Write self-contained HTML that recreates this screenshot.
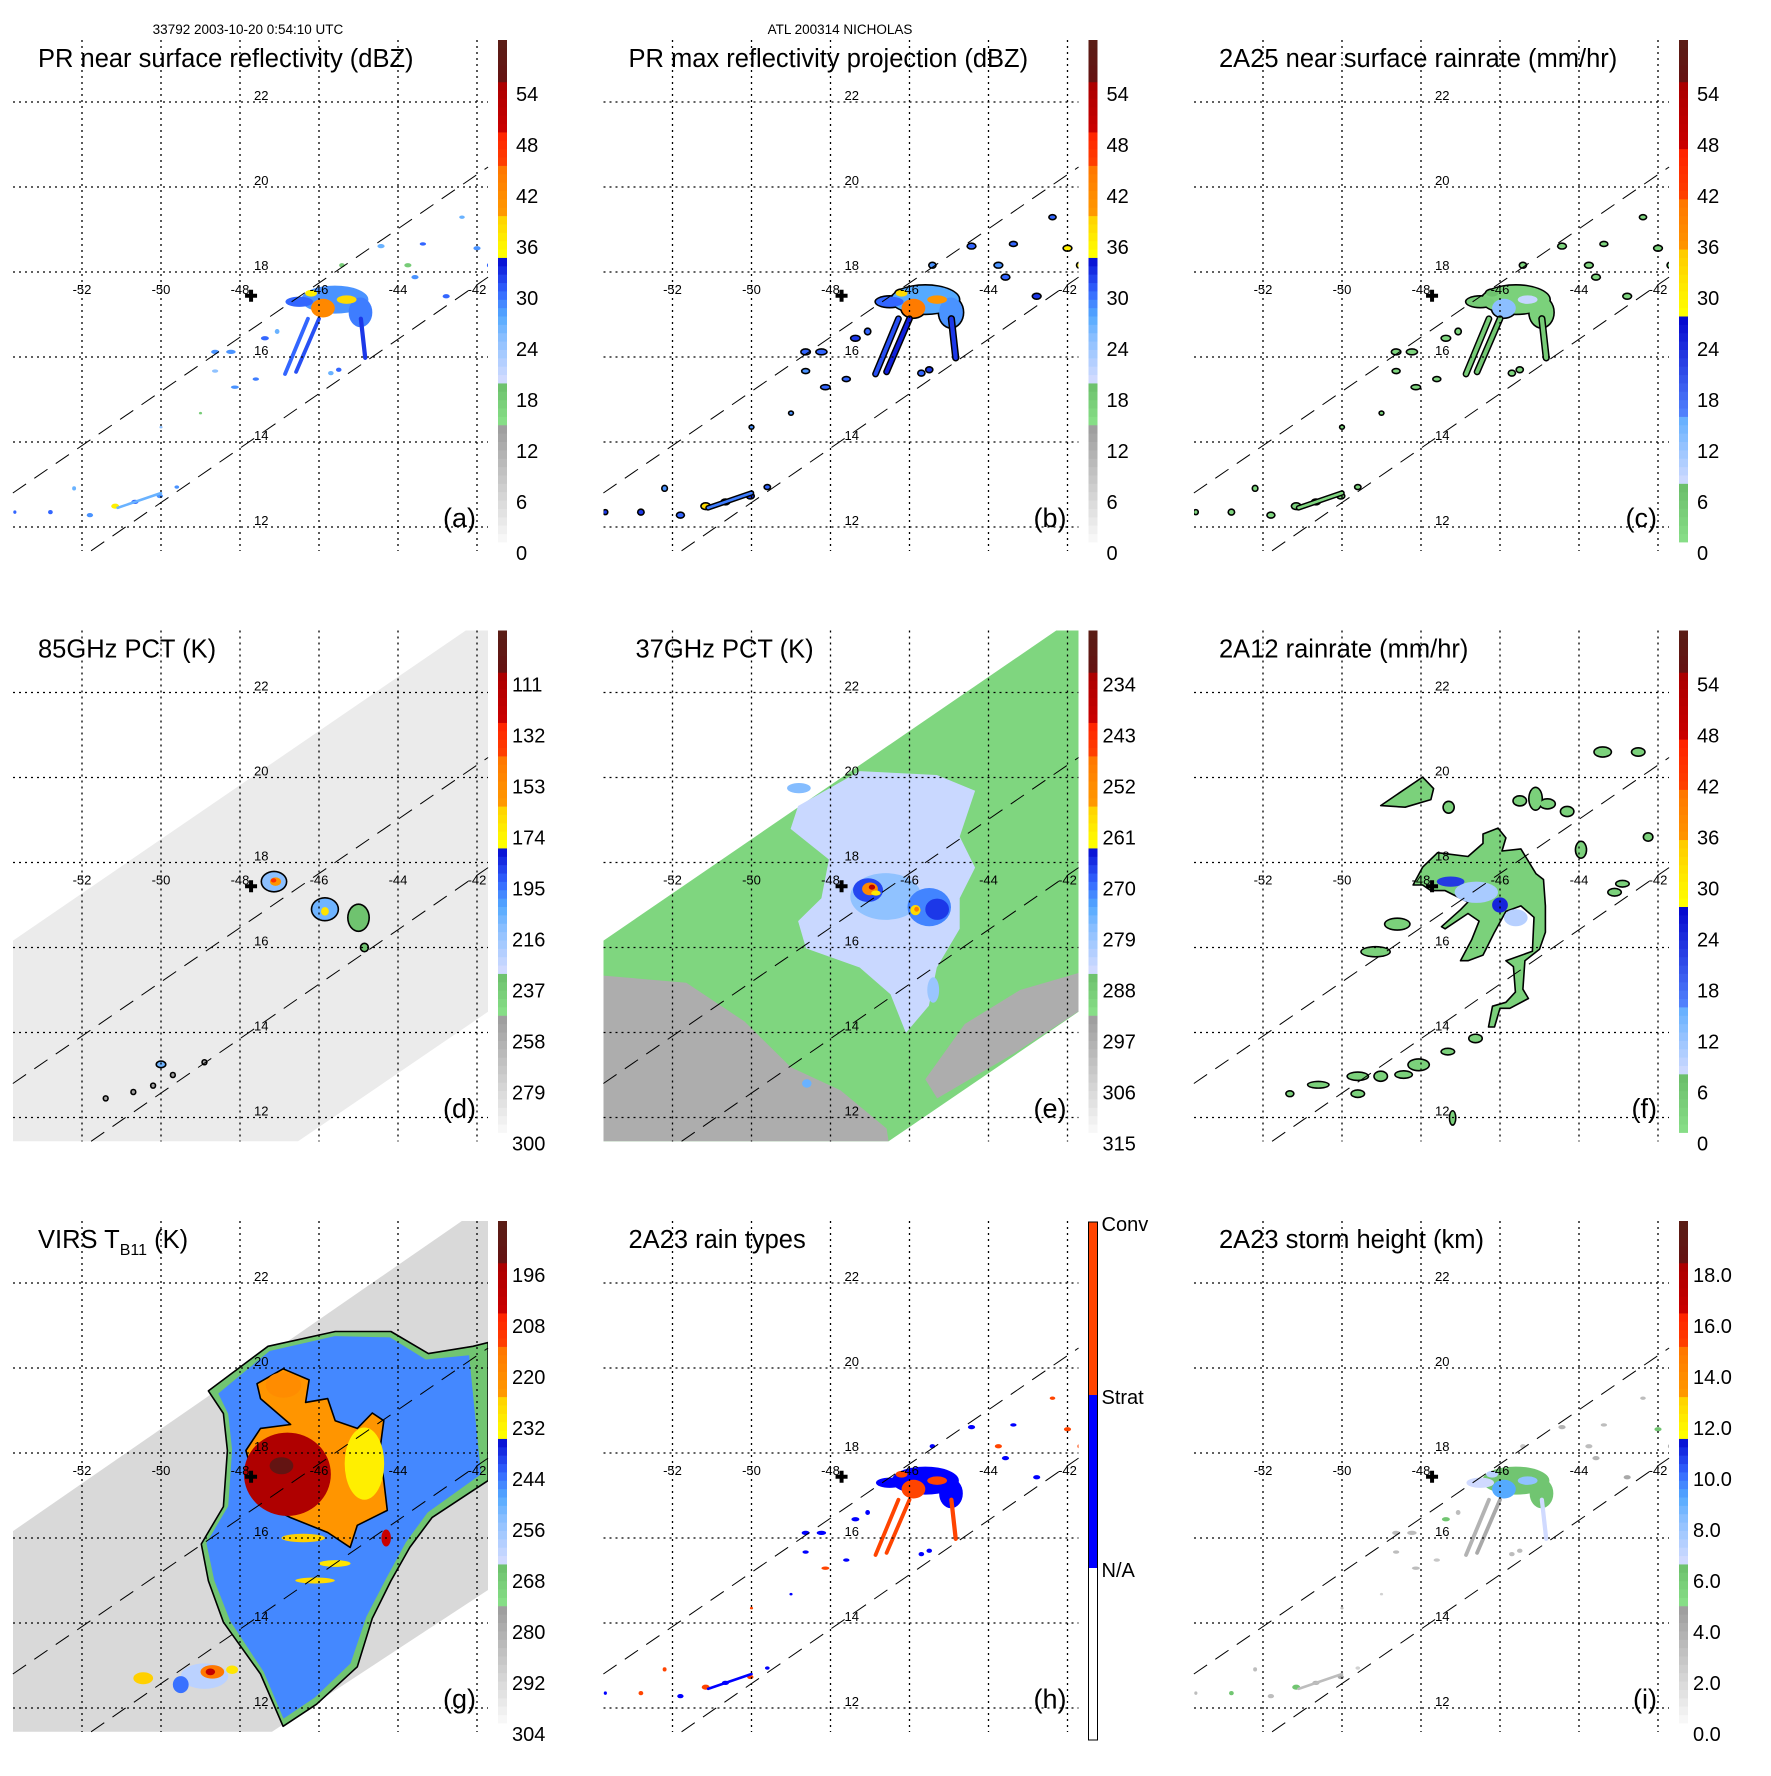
<!DOCTYPE html>
<html><head><meta charset="utf-8"><style>
html,body{margin:0;padding:0;background:#fff;}
svg text{font-family:"Liberation Sans",sans-serif;}
</style></head><body>
<svg id="fig" xmlns="http://www.w3.org/2000/svg" width="1771" height="1771" viewBox="0 0 1771 1771">
<rect x="0" y="0" width="1771" height="1771" fill="#fff"/>
<text x="248" y="34" font-size="13.5" text-anchor="middle">33792 2003-10-20 0:54:10 UTC</text>
<text x="840" y="34" font-size="13.5" text-anchor="middle">ATL 200314 NICHOLAS</text>
</svg>
<script>
// ---------- data ----------
const lonTicks=[-52,-50,-48,-46,-44,-42];
const latTicks=[22,20,18,16,14,12];
const stormCenter=[-47.72,17.44];
const prSwathUpper=[[-53.75,12.8],[-41.72,20.47]];
const prSwathLower=[[-51.77,11.44],[-41.72,17.88]];
const tmiSwath=[[-53.75,16.16],[-42.28,23.46],[-41.72,23.46],[-41.72,14.49],[-46.53,11.44],[-53.75,11.44]];
const virsSwath=[[-53.75,16.16],[-42.38,23.46],[-41.72,23.46],[-41.72,14.78],[-47.19,11.44],[-53.75,11.44]];

// PR cells: lon, lat, rx(deg), ry(deg)
const prCells=[[-45.6,17.35,0.85,0.33],[-46.5,17.3,0.35,0.12],[-44.95,17.05,0.3,0.35],[-45.9,17.15,0.3,0.22],[-45.3,17.35,0.25,0.1],[-46.2,17.5,0.15,0.08],
[-44.43,18.61,0.09,0.05],[-43.75,18.16,0.09,0.05],[-43.57,17.88,0.09,0.05],[-42.78,17.43,0.09,0.05],[-42.0,18.56,0.09,0.05],[-42.38,19.29,0.07,0.04],[-43.37,18.66,0.08,0.04],[-45.42,18.16,0.07,0.05],[-48.23,16.12,0.12,0.05],[-48.63,16.12,0.1,0.05],[-47.37,16.44,0.1,0.05],[-47.06,16.6,0.06,0.06],[-48.63,15.67,0.08,0.04],[-48.13,15.29,0.1,0.04],[-47.6,15.48,0.08,0.04],[-45.7,15.62,0.07,0.05],[-45.5,15.7,0.07,0.05],[-50.03,12.73,0.08,0.05],[-50.66,12.59,0.09,0.05],[-51.16,12.49,0.1,0.06],[-51.8,12.28,0.08,0.05],[-52.8,12.35,0.06,0.05],[-53.7,12.35,0.04,0.04],[-49.6,12.94,0.06,0.04],[-52.2,12.91,0.05,0.05],[-49.0,14.68,0.04,0.03],[-50.0,14.35,0.04,0.03],[-41.7,18.16,0.05,0.05]];
const prStreaks=[[-46.28,16.9,-46.86,15.6,0.045],[-46.0,16.9,-46.58,15.65,0.045],[-44.94,16.9,-44.83,15.98,0.05],[-51.1,12.45,-50.0,12.8,0.03]];
const valsA=[28,30,29,42,38,36,26,17,28,30,28,26,30,17,28,28,30,26,24,28,29,26,30,28,30,36,28,30,30,28,26,17,24,30];
const valsB=[27,30,28,44,40,38,30,28,30,32,36,30,30,28,30,30,32,30,28,30,30,30,32,32,32,38,30,32,32,30,28,28,28,36];
const valsC=[3,4,3,12,8,6,2,2,2,2,3,2,2,2,2,2,2,2,2,2,2,2,2,2,2,3,2,2,2,2,2,2,2,2];
const valsH=[1,1,1,2,2,2,1,2,1,1,2,2,1,1,1,1,1,1,1,2,1,1,1,2,1,2,1,2,1,1,2,1,2,2];
const valsI=[6,6.5,6,9,8,7,3.5,3,3.5,4,6,3,3,2.5,3,3,6,3,3,3,2.5,3,3,4,3.5,6,3,6,3,2,3,2,3,3.5];
const streakA=[30,31,32,26], streakB=[31,33,32,29], streakC=[4,5,4,2], streakH=[2,2,2,1], streakI=[3.5,4,6.5,3];

// 85 GHz PCT cells (K): lon,lat,rx,ry,T
const dCells=[[-47.14,17.55,0.3,0.22,215],[-47.1,17.55,0.14,0.1,160],[-47.15,17.58,0.07,0.05,135],[-45.0,16.7,0.25,0.3,236],[-45.85,16.9,0.32,0.25,210],[-45.85,16.85,0.1,0.1,170],[-44.85,16.0,0.08,0.08,236],[-50.0,13.25,0.1,0.06,210],[-51.4,12.45,0.04,0.04,255],[-50.7,12.6,0.04,0.04,255],[-50.2,12.75,0.04,0.04,255],[-49.7,13.0,0.04,0.04,255],[-48.9,13.3,0.04,0.04,255]];
// 37 GHz PCT
const eGray1=[[-53.75,15.34],[-51.65,15.17],[-50.18,14.26],[-49.0,13.18],[-47.75,12.64],[-46.58,11.74],[-46.53,11.44],[-53.75,11.44]];
const eGray2=[[-44.6,14.2],[-43.2,15.0],[-41.72,15.4],[-41.72,14.5],[-43.37,13.5],[-45.3,12.45],[-45.6,12.9]];
const eCloud=[[-48.82,19.33],[-47.26,20.15],[-45.31,20.06],[-44.34,19.69],[-44.73,18.61],[-44.34,17.88],[-44.73,17.16],[-44.73,16.44],[-45.31,15.53],[-45.51,14.63],[-46.09,13.99],[-46.48,14.9],[-47.26,15.53],[-48.62,15.98],[-48.82,16.62],[-48.23,17.16],[-48.04,18.07],[-49.01,18.79]];
const eGrayT=298, eCloudT=285;
const eCells=[[-46.6,17.2,0.9,0.55,279],[-45.5,16.95,0.55,0.45,272],[-45.3,16.9,0.3,0.25,267],[-47.05,17.35,0.38,0.28,268],[-47.0,17.38,0.2,0.15,252],[-46.95,17.42,0.08,0.06,238],[-46.85,17.28,0.12,0.06,260],[-45.85,16.88,0.13,0.12,258],[-45.82,16.9,0.06,0.06,250],[-48.8,19.75,0.3,0.12,278],[-45.4,15.0,0.15,0.3,280],[-48.6,12.8,0.12,0.1,276]];
// 2A12 rain
const fMain=[[-48.2,17.47],[-47.96,17.89],[-47.58,18.23],[-46.81,18.14],[-46.43,18.45],[-46.43,18.67],[-46.05,18.81],[-45.85,18.58],[-45.95,18.27],[-45.47,18.32],[-45.09,17.74],[-44.9,17.6],[-44.85,16.98],[-44.85,16.36],[-45.0,15.96],[-45.37,15.69],[-45.42,15.02],[-45.28,14.8],[-45.75,14.57],[-46.0,14.57],[-46.14,14.13],[-46.29,14.13],[-46.19,14.62],[-45.85,14.71],[-45.61,14.95],[-45.66,15.55],[-45.85,15.69],[-45.18,15.91],[-45.14,16.71],[-45.47,16.98],[-45.85,16.85],[-46.14,16.36],[-46.43,15.82],[-46.81,15.69],[-47.0,15.69],[-46.72,16.18],[-46.53,16.62],[-46.81,16.8],[-47.39,16.44],[-47.48,16.49],[-47.0,16.89],[-46.81,17.07],[-47.2,17.25],[-47.39,17.34],[-47.75,17.34],[-47.96,17.47]];
const fNW=[[-49.02,19.34],[-47.96,20.01],[-47.68,19.74],[-47.75,19.48],[-48.4,19.3]];
const fMainVal=3, fNWVal=3;
const fCells=[[-47.25,17.55,0.35,0.12,22],[-46.0,17.0,0.2,0.18,24],[-46.6,17.3,0.55,0.25,10],[-45.6,16.7,0.3,0.2,9],[-44.8,19.38,0.18,0.1,3],[-45.5,19.45,0.15,0.1,3],[-45.1,19.5,0.15,0.25,3],[-44.3,19.2,0.15,0.1,3],[-42.5,20.6,0.15,0.08,3],[-43.4,20.6,0.2,0.1,3],[-43.95,18.3,0.12,0.18,3],[-42.25,18.6,0.1,0.08,3],[-43.1,17.3,0.15,0.07,3],[-47.3,19.3,0.12,0.12,3],[-48.6,16.55,0.3,0.12,3],[-49.15,15.9,0.35,0.1,3],[-46.62,13.86,0.15,0.08,3],[-47.32,13.55,0.15,0.06,3],[-48.06,13.24,0.25,0.12,3],[-48.44,13.01,0.2,0.07,3],[-49.02,12.97,0.15,0.1,3],[-49.6,12.97,0.25,0.08,3],[-49.6,12.56,0.15,0.07,3],[-50.6,12.77,0.25,0.06,3],[-51.32,12.56,0.08,0.05,3],[-47.2,11.99,0.06,0.15,3],[-42.9,17.5,0.15,0.06,3]];
// VIRS Tb11
const gShield=[[-48.8,19.46],[-47.29,20.51],[-45.59,20.86],[-44.18,20.86],[-43.23,20.34],[-42.1,20.51],[-41.72,20.6],[-41.72,17.35],[-43.14,16.48],[-43.7,15.78],[-44.18,14.99],[-44.65,14.11],[-45.03,12.97],[-46.06,12.09],[-46.91,11.57],[-47.48,12.8],[-48.42,14.02],[-48.8,14.99],[-48.98,15.86],[-48.42,16.74],[-48.32,18.06],[-48.42,18.93]];
const gBlue=[[-48.55,19.4],[-47.25,20.4],[-45.6,20.75],[-44.2,20.72],[-43.3,20.2],[-42.2,20.3],[-41.9,17.5],[-43.25,16.6],[-43.8,15.9],[-44.3,15.05],[-44.8,14.15],[-45.2,13.05],[-46.1,12.25],[-46.9,11.75],[-47.4,12.85],[-48.25,14.05],[-48.65,15.0],[-48.85,15.88],[-48.3,16.75],[-48.2,18.08],[-48.3,18.92]];
const gWarm=[[-47.57,19.63],[-46.91,19.98],[-46.25,19.72],[-46.34,19.19],[-45.78,19.28],[-45.59,18.76],[-45.03,18.58],[-44.65,18.94],[-44.36,18.76],[-44.46,18.06],[-44.36,17.35],[-44.27,16.65],[-45.03,16.3],[-45.21,15.78],[-45.78,16.13],[-46.72,16.48],[-47.48,16.83],[-47.85,18.06],[-47.48,18.58],[-46.72,18.67],[-47.48,19.28]];
const gShieldT=268, gBlueT=247, gWarmT=224;
const gCells=[[-44.85,17.75,0.5,0.85,232],[-46.9,19.6,0.45,0.3,221],[-46.8,17.5,1.1,0.98,196],[-46.95,17.7,0.3,0.2,192],[-44.3,16.0,0.12,0.2,205],[-46.4,16.0,0.55,0.1,226],[-45.6,15.4,0.4,0.08,230],[-46.1,15.0,0.5,0.07,228],[-48.9,12.75,0.6,0.3,262],[-50.45,12.7,0.25,0.14,226],[-49.5,12.55,0.2,0.2,245],[-48.7,12.85,0.3,0.16,215],[-48.75,12.85,0.12,0.08,203],[-48.2,12.9,0.15,0.1,230]];

const cbLabels={
 a:['54','48','42','36','30','24','18','12','6','0'],
 d:['111','132','153','174','195','216','237','258','279','300'],
 e:['234','243','252','261','270','279','288','297','306','315'],
 g:['196','208','220','232','244','256','268','280','292','304'],
 i:['18.0','16.0','14.0','12.0','10.0','8.0','6.0','4.0','2.0','0.0']};
const cbLabelVals=[54,48,42,36,30,24,18,12,6,0];

// ---------- colormaps ----------
const palA=[[0,'#fafafa'],[14.2,'#9a9a9a'],[14.21,'#88e088'],[19.2,'#6abd6a'],[19.21,'#d4dcff'],[24.3,'#8cc0ff'],[27,'#55aaff'],[30,'#3366ff'],[34.4,'#0000cc'],[34.41,'#ffff00'],[39.4,'#ffcc00'],[39.41,'#ff9900'],[44.7,'#ff7700'],[44.71,'#ff4400'],[49,'#ff2200'],[49.01,'#cc0000'],[54.8,'#aa0000'],[54.81,'#661111'],[60,'#5a1e16']];
const palC=[[0,'#88e088'],[6.96,'#6abd6a'],[6.97,'#d4dcff'],[14.7,'#66b0ff'],[14.71,'#5588ff'],[27.4,'#0000cc'],[27.41,'#ffff00'],[34.5,'#ffcc00'],[34.51,'#ff9900'],[40.7,'#ff7700'],[40.71,'#ff4400'],[47,'#ff2200'],[47.01,'#cc0000'],[54.7,'#aa0000'],[54.71,'#661111'],[60,'#5a1e16']];
function hx(c){return [parseInt(c.substr(1,2),16),parseInt(c.substr(3,2),16),parseInt(c.substr(5,2),16)];}
function cmap(pal,v){
 v=Math.max(0,Math.min(60,v));
 for(let i=0;i<pal.length-1;i++){
  if(v>=pal[i][0]&&v<=pal[i+1][0]){
   const t=(v-pal[i][0])/((pal[i+1][0]-pal[i][0])||1);
   const a=hx(pal[i][1]),b=hx(pal[i+1][1]);
   return 'rgb('+a.map((x,k)=>Math.round(x+(b[k]-x)*t)).join(',')+')';
  }}
 return pal[pal.length-1][1];
}
const toV={
 a:v=>v, b:v=>v, c:v=>v, f:v=>v,
 d:T=>(300-T)*54/189, e:T=>(315-T)*2/3, g:T=>(304-T)/2, i:h=>h*3};
const typeCol=v=>v>=2?'#ff4400':(v>=1?'#0000ff':'#ffffff');

// ---------- geometry ----------
const NS='http://www.w3.org/2000/svg';
const svg=document.getElementById('fig');
const STEP=590.5;
const px=lon=>82+(lon+52)*39.5;
const py=lat=>102+(22-lat)*42.5;
function mk(tag,attrs,parent){const e=document.createElementNS(NS,tag);for(const k in attrs)e.setAttribute(k,attrs[k]);parent.appendChild(e);return e;}
function polyPts(arr){return arr.map(p=>px(p[0]).toFixed(1)+','+py(p[1]).toFixed(1)).join(' ');}

const panels=[
 {id:'a',col:0,row:0,title:'PR near surface reflectivity (dBZ)',pal:palA},
 {id:'b',col:1,row:0,title:'PR max reflectivity projection (dBZ)',pal:palA},
 {id:'c',col:2,row:0,title:'2A25 near surface rainrate (mm/hr)',pal:palC},
 {id:'d',col:0,row:1,title:'85GHz PCT (K)',pal:palA},
 {id:'e',col:1,row:1,title:'37GHz PCT (K)',pal:palA},
 {id:'f',col:2,row:1,title:'2A12 rainrate (mm/hr)',pal:palC},
 {id:'g',col:0,row:2,title:'VIRS',pal:palA},
 {id:'h',col:1,row:2,title:'2A23 rain types',pal:null},
 {id:'i',col:2,row:2,title:'2A23 storm height (km)',pal:palA}];

function drawCells(g,cells,vals,colorFn,outline){
 if(outline){
  cells.forEach((c,k)=>{
   const e=mk('ellipse',{cx:px(c[0]),cy:py(c[1]),rx:c[2]*39.5+1.6,ry:c[3]*42.5+1.6,fill:'#000'},g);
   
   
  });
 }
 cells.forEach((c,k)=>{
  const v=vals?vals[k]:c[4];
  const e=mk('ellipse',{cx:px(c[0]),cy:py(c[1]),rx:c[2]*39.5,ry:c[3]*42.5,fill:colorFn(v)},g);
  
  
 });
}
function drawStreaks(g,streaks,vals,colorFn,outline){
 if(outline){
  streaks.forEach(s=>{
   const l=mk('line',{x1:px(s[0]),y1:py(s[1]),x2:px(s[2]),y2:py(s[3]),stroke:'#000','stroke-width':s[4]*42.5*2+3,'stroke-linecap':'round'},g);
   
   
  });
 }
 streaks.forEach((s,k)=>{
  const l=mk('line',{x1:px(s[0]),y1:py(s[1]),x2:px(s[2]),y2:py(s[3]),stroke:colorFn(vals[k]),'stroke-width':s[4]*42.5*2,'stroke-linecap':'round'},g);
  
  
 });
}
function drawPoly(g,pts,fill,name,stroke){
 const p=mk('polygon',{points:polyPts(pts),fill:fill,stroke:stroke||'none','stroke-width':stroke?1.6:0,'stroke-linejoin':'round'},g);
 
 
 return p;
}

panels.forEach(P=>{
 const G=mk('g',{transform:'translate('+(P.col*STEP)+','+(P.row*STEP)+')'},svg);
 
 
 const cp=mk('clipPath',{id:'clip-'+P.id},G);
 mk('rect',{x:13,y:40,width:475,height:511},cp);
 const D=mk('g',{'clip-path':'url(#clip-'+P.id+')'},G);
 
 
 const V=toV[P.id];
 const cf=v=>cmap(P.pal,V(v));
 if(P.id==='a') { drawCells(D,prCells,valsA,cf,false); drawStreaks(D,prStreaks,streakA,cf,false); }
 if(P.id==='b') { drawCells(D,prCells,valsB,cf,true); drawStreaks(D,prStreaks,streakB,cf,true); }
 if(P.id==='c') { drawCells(D,prCells,valsC,cf,true); drawStreaks(D,prStreaks,streakC,cf,true); }
 if(P.id==='h') { drawCells(D,prCells,valsH,typeCol,false); drawStreaks(D,prStreaks,streakH,typeCol,false); }
 if(P.id==='i') { drawCells(D,prCells,valsI,cf,false); drawStreaks(D,prStreaks,streakI,cf,false); }
 if(P.id==='d'){
  drawPoly(D,tmiSwath,'#ebebeb','tmi-swath');
  drawCells(D,dCells,null,cf,true);
 }
 if(P.id==='e'){
  drawPoly(D,tmiSwath,'#7fd67f','tmi-swath');
  drawPoly(D,eGray1,cf(eGrayT),'gray-region');
  drawPoly(D,eGray2,cf(eGrayT),'gray-region-east');
  drawPoly(D,eCloud,cf(eCloudT),'scattering-region');
  drawCells(D,eCells,null,cf,false);
 }
 if(P.id==='f'){
  drawPoly(D,fMain,cf(fMainVal),'rain-area-main','#000');
  drawPoly(D,fNW,cf(fNWVal),'rain-area-nw','#000');
  drawCells(D,fCells.slice(4),null,cf,true);
  drawCells(D,fCells.slice(0,4),null,cf,false);
 }
 if(P.id==='g'){
  drawPoly(D,virsSwath,'#d9d9d9','virs-swath');
  drawPoly(D,gShield,cf(gShieldT),'cloud-shield','#000');
  drawPoly(D,gBlue,cf(gBlueT),'cold-cloud');
  drawPoly(D,gWarm,cf(gWarmT),'very-cold-cloud','#000');
  drawCells(D,gCells,null,cf,false);
 }
 // grid
 lonTicks.forEach(l=>{
  const ln=mk('line',{x1:px(l),y1:40,x2:px(l),y2:551,stroke:'#000','stroke-width':1.3,'stroke-dasharray':'2,4'},G);
  
  
  const t=mk('text',{x:px(l),y:294,'font-size':13,'text-anchor':'middle'},G); t.textContent=String(l);
  
  
 });
 latTicks.forEach(l=>{
  const ln=mk('line',{x1:13,y1:py(l),x2:488,y2:py(l),stroke:'#000','stroke-width':1.3,'stroke-dasharray':'2,4'},G);
  
  
  const t=mk('text',{x:254,y:py(l)-2,'font-size':13},G); t.textContent=String(l);
  
  
 });
 [prSwathUpper,prSwathLower].forEach(s=>{
  const ln=mk('line',{x1:px(s[0][0]),y1:py(s[0][1]),x2:px(s[1][0]),y2:py(s[1][1]),stroke:'#000','stroke-width':1,'stroke-dasharray':'16,10'},G);
  
  
 });
 const cx=px(stormCenter[0]),cy=py(stormCenter[1]);
 const cr=mk('path',{d:`M${cx-6},${cy}H${cx+6}M${cx},${cy-6}V${cy+6}`,stroke:'#000','stroke-width':4},G);
 
 
 // title
 const tt=mk('text',{x:P.id==='e'?45:38,y:67,'font-size':25.5},G);
 if(P.id==='g'){
  tt.innerHTML='VIRS T<tspan font-size="16" dy="7">B11</tspan><tspan dy="-7"> (K)</tspan>';
 } else tt.textContent=P.title;
 
 
 const pl=mk('text',{x:476,y:527,'font-size':27,'text-anchor':'end'},G); pl.textContent='('+P.id+')';
 
 
 // colorbar
 const CB=mk('g',{},G);
 
 
 if(P.id==='h'){
  [[41,214,'#ff4400'],[214,387,'#0000ff'],[387,559,'#ffffff']].forEach(s=>{
   const r=mk('rect',{x:498,y:s[0],width:9,height:s[1]-s[0],fill:s[2]},CB);
   
   
  });
  mk('rect',{x:498,y:41,width:9,height:518,fill:'none',stroke:'#000','stroke-width':1},CB);
  [['Conv',50],['Strat',223],['N/A',396]].forEach(s=>{
   const t=mk('text',{x:511,y:s[1],'font-size':20},CB); t.textContent=s[0];
   
   
  });
 } else {
  for(let k=0;k<60;k++){
   const y0=542-(k+1)*502/60;
   const r=mk('rect',{x:498,y:y0.toFixed(2),width:9,height:(502/60+0.4).toFixed(2),fill:cmap(P.pal,k+0.5)},CB);
   
   
  }
  const labs=cbLabels[P.id]||cbLabels.a;
  labs.forEach((s,k)=>{
   const yc=553-cbLabelVals[k]*8.5;
   const t=mk('text',{x:P.id==='a'||P.id==='b'||P.id==='c'||P.id==='f'?516:512,y:yc+7,'font-size':20},CB); t.textContent=s;
   
   
  });
 }
});
</script>
</body></html>
